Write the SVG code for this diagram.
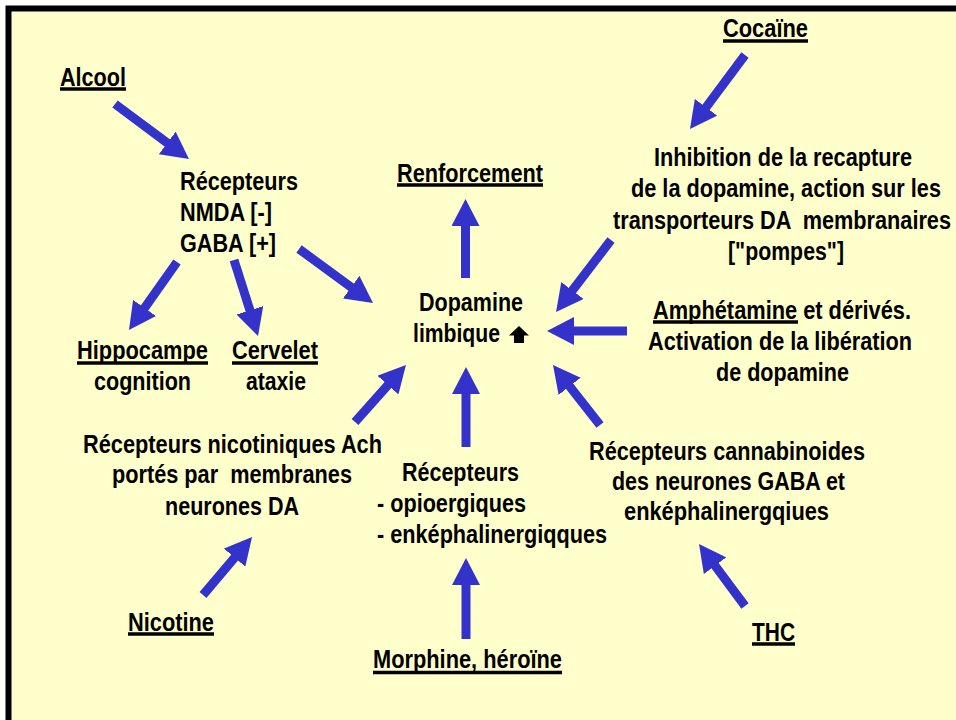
<svg xmlns="http://www.w3.org/2000/svg" width="956" height="720" viewBox="0 0 956 720">
<style>
.t{font-family:"Liberation Sans Narrow","Liberation Sans",Arial,sans-serif;font-size:25px;font-weight:bold;fill:#000;white-space:pre}
.u{stroke:#000;stroke-width:3.5}
.a{stroke:#3333CC;stroke-width:9;fill:none;marker-end:url(#h)}
</style>
<defs>
<marker id="h" markerUnits="userSpaceOnUse" viewBox="0 0 27 28" refX="2" refY="14" markerWidth="27" markerHeight="28" orient="auto">
<path d="M0,0 L27,14 L0,28 z" fill="#3333CC"/>
</marker>
</defs>
<rect x="0" y="0" width="956" height="720" fill="#fff"/>
<rect x="8.5" y="8.5" width="960" height="730" fill="#FFFFCC" stroke="#000" stroke-width="6"/>

<g id="connectors">
<line class="a" x1="115" y1="104" x2="168.9" y2="144.1"/>
<line class="a" x1="299" y1="249" x2="352.8" y2="288.3"/>
<line class="a" x1="177" y1="262" x2="143.4" y2="309.6"/>
<line class="a" x1="234" y1="260" x2="250.5" y2="312.2"/>
<line class="a" x1="465.5" y1="278" x2="465.5" y2="224"/>
<line class="a" x1="745" y1="55" x2="704.9" y2="108.9"/>
<line class="a" x1="611" y1="240" x2="571.2" y2="292.1"/>
<line class="a" x1="627" y1="331" x2="572" y2="331"/>
<line class="a" x1="355" y1="422" x2="389.3" y2="383.6"/>
<line class="a" x1="466" y1="447" x2="466" y2="392"/>
<line class="a" x1="600" y1="425" x2="568.4" y2="384.7"/>
<line class="a" x1="203" y1="595" x2="235.9" y2="556.1"/>
<line class="a" x1="466" y1="639" x2="466" y2="583"/>
<line class="a" x1="745" y1="606" x2="713.9" y2="564.1"/>
</g>

<g id="alcool">
<text class="t" x="60" y="86" textLength="66" lengthAdjust="spacingAndGlyphs">Alcool</text>
<line class="u" x1="60" y1="89" x2="126" y2="89"/>
</g>
<g id="recepteurs-nmda-gaba">
<text class="t" x="180" y="190" textLength="118" lengthAdjust="spacingAndGlyphs">Récepteurs</text>
<text class="t" x="180" y="221" textLength="92" lengthAdjust="spacingAndGlyphs">NMDA [-]</text>
<text class="t" x="180" y="252" textLength="96" lengthAdjust="spacingAndGlyphs">GABA [+]</text>
</g>
<g id="hippocampe">
<text class="t" x="77" y="359" textLength="131" lengthAdjust="spacingAndGlyphs">Hippocampe</text>
<line class="u" x1="77" y1="363" x2="208" y2="363"/>
<text class="t" x="94" y="390" textLength="97" lengthAdjust="spacingAndGlyphs">cognition</text>
</g>
<g id="cervelet">
<text class="t" x="232" y="359" textLength="86" lengthAdjust="spacingAndGlyphs">Cervelet</text>
<line class="u" x1="232" y1="363" x2="318" y2="363"/>
<text class="t" x="246" y="390" textLength="60" lengthAdjust="spacingAndGlyphs">ataxie</text>
</g>
<g id="renforcement">
<text class="t" x="397" y="182" textLength="146" lengthAdjust="spacingAndGlyphs">Renforcement</text>
<line class="u" x1="397" y1="185" x2="543" y2="185"/>
</g>
<g id="dopamine">
<text class="t" x="419" y="311" textLength="104" lengthAdjust="spacingAndGlyphs">Dopamine</text>
<text class="t" x="413" y="342" textLength="87" lengthAdjust="spacingAndGlyphs">limbique</text>
<polygon points="519,326 529,335.5 524,335.5 524,343 514,343 514,335.5 509,335.5" fill="#000"/>
</g>
<g id="cocaine">
<text class="t" x="723" y="37" textLength="85" lengthAdjust="spacingAndGlyphs">Cocaïne</text>
<line class="u" x1="723" y1="41" x2="808" y2="41"/>
</g>
<g id="inhibition">
<text class="t" x="654" y="166" textLength="258" lengthAdjust="spacingAndGlyphs">Inhibition de la recapture</text>
<text class="t" x="631" y="197" textLength="310" lengthAdjust="spacingAndGlyphs">de la dopamine, action sur les</text>
<text class="t" x="613" y="229" textLength="338" lengthAdjust="spacingAndGlyphs">transporteurs DA  membranaires</text>
<text class="t" x="728" y="260" textLength="116" lengthAdjust="spacingAndGlyphs">["pompes"]</text>
</g>
<g id="amphetamine">
<text class="t" x="653" y="319" textLength="258" lengthAdjust="spacingAndGlyphs">Amphétamine et dérivés.</text>
<line class="u" x1="653" y1="322" x2="798" y2="322"/>
<text class="t" x="648" y="350" textLength="264" lengthAdjust="spacingAndGlyphs">Activation de la libération</text>
<text class="t" x="716" y="381" textLength="133" lengthAdjust="spacingAndGlyphs">de dopamine</text>
</g>
<g id="cannabinoides">
<text class="t" x="589" y="460" textLength="276" lengthAdjust="spacingAndGlyphs">Récepteurs cannabinoides</text>
<text class="t" x="612" y="490" textLength="233" lengthAdjust="spacingAndGlyphs">des neurones GABA et</text>
<text class="t" x="624" y="520" textLength="205" lengthAdjust="spacingAndGlyphs">enképhalinergqiues</text>
</g>
<g id="thc">
<text class="t" x="752" y="641" textLength="43" lengthAdjust="spacingAndGlyphs">THC</text>
<line class="u" x1="752" y1="644" x2="795" y2="644"/>
</g>
<g id="nicotiniques">
<text class="t" x="83" y="453" textLength="299" lengthAdjust="spacingAndGlyphs">Récepteurs nicotiniques Ach</text>
<text class="t" x="112" y="483" textLength="240" lengthAdjust="spacingAndGlyphs">portés par  membranes</text>
<text class="t" x="165" y="515" textLength="134" lengthAdjust="spacingAndGlyphs">neurones DA</text>
</g>
<g id="nicotine">
<text class="t" x="128" y="631" textLength="86" lengthAdjust="spacingAndGlyphs">Nicotine</text>
<line class="u" x1="128" y1="634" x2="214" y2="634"/>
</g>
<g id="opioides">
<text class="t" x="402" y="481" textLength="117" lengthAdjust="spacingAndGlyphs">Récepteurs</text>
<text class="t" x="377" y="512" textLength="149" lengthAdjust="spacingAndGlyphs">- opioergiques</text>
<text class="t" x="377" y="543" textLength="230" lengthAdjust="spacingAndGlyphs">- enképhalinergiqques</text>
</g>
<g id="morphine">
<text class="t" x="373" y="668" textLength="189" lengthAdjust="spacingAndGlyphs">Morphine, héroïne</text>
<line class="u" x1="373" y1="672.5" x2="562" y2="672.5"/>
</g>
</svg>
